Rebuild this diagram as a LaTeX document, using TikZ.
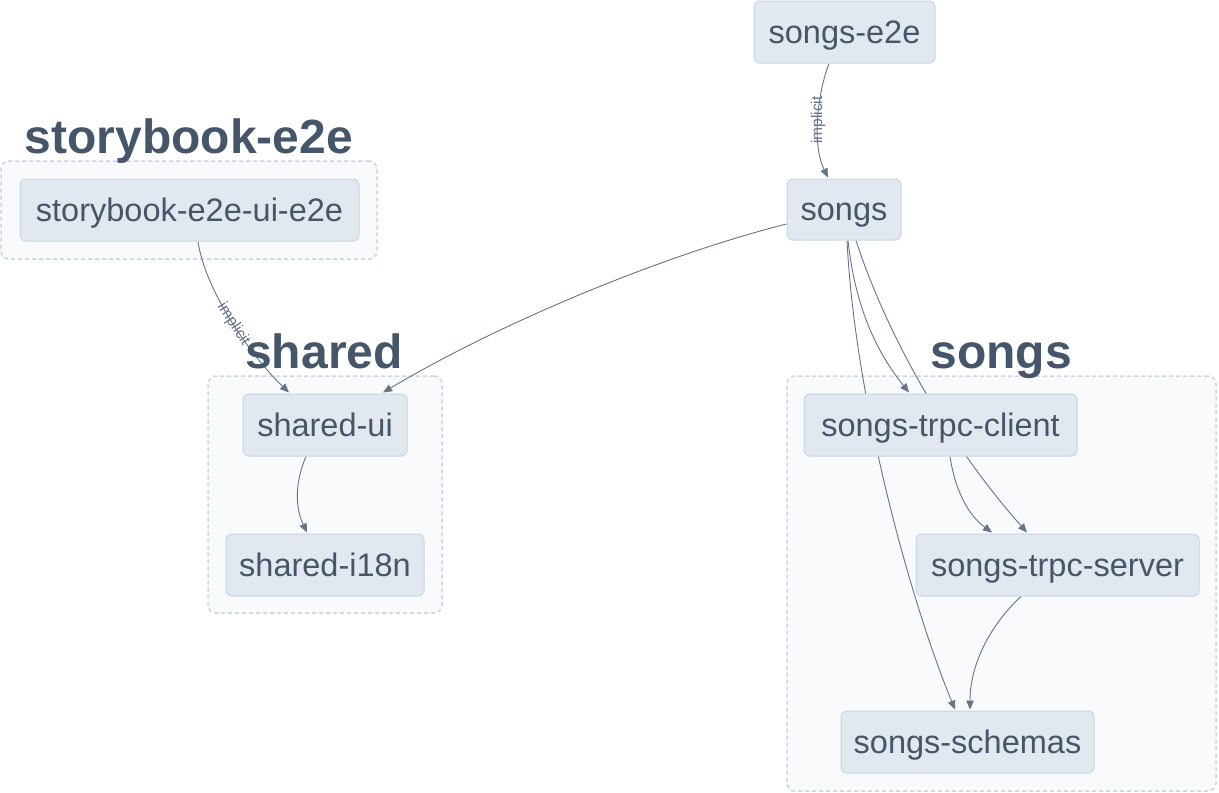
\documentclass[tikz,border=0pt]{standalone}
\usepackage{fontspec}
\setmainfont{Liberation Sans}
\usetikzlibrary{arrows.meta,calc}
\definecolor{nodefill}{HTML}{E2E8F0}
\definecolor{nodeline}{HTML}{CBD5E1}
\definecolor{txtc}{HTML}{475569}
\definecolor{titlec}{HTML}{45556A}
\definecolor{grpfill}{HTML}{F8FAFC}
\definecolor{grpline}{HTML}{CBD5E1}
\definecolor{edgec}{HTML}{64748B}
\pgfdeclarelayer{bg}
\pgfdeclarelayer{edges}
\pgfsetlayers{bg,edges,main}
\tikzset{
  pkg/.style={draw=nodeline, fill=nodefill, line width=1pt, rounded corners=6pt,
    text=txtc, font=\fontsize{32.5}{37}\selectfont, inner sep=0pt,
    text height=22pt, text depth=0pt, minimum height=62pt},
  grp/.style={draw=grpline, fill=grpfill, line width=1.5pt, rounded corners=8pt,
    dash pattern=on 4pt off 3pt, inner sep=0pt},
  gtitle/.style={text=titlec, font=\fontsize{48}{53}\selectfont\bfseries, anchor=base, inner sep=0pt},
  dep/.style={draw=edgec, line width=0.9pt, -{Triangle[length=9pt,width=7.5pt]}},
  lbl/.style={text=edgec, font=\fontsize{15.5}{17}\selectfont, inner sep=0pt}
}
\begin{document}
\begin{tikzpicture}[x=1pt,y=-1pt]
\useasboundingbox (0,0) rectangle (1219,793);
\begin{pgfonlayer}{bg}
  \fill[white] (0,0) rectangle (1219,793);
  \node[grp, minimum width=376pt, minimum height=98pt] (gsb) at (189,210) {};
  \node[grp, minimum width=234pt, minimum height=237pt] (gsh) at (325,494.5) {};
  \node[grp, minimum width=429pt, minimum height=415pt] (gso) at (1001.5,583.5) {};
\end{pgfonlayer}

\node[gtitle] (tsb) at (189,153) {storybook-e2e};
\node[gtitle] (tsh) at (324,368) {shared};
\node[gtitle] (tso) at (1001,368) {songs};

\node[pkg, minimum width=181pt] (se2e) at (844.5,32) {songs-e2e};
\node[pkg, minimum width=114pt, minimum height=61pt] (songs) at (844,209.5) {songs};
\node[pkg, minimum width=339pt] (sb) at (189.5,210) {storybook-e2e-ui-e2e};
\node[pkg, minimum width=164pt] (sui) at (325,425) {shared-ui};
\node[pkg, minimum width=198pt] (si18n) at (325,565) {shared-i18n};
\node[pkg, minimum width=273pt] (client) at (940.5,425) {songs-trpc-client};
\node[pkg, minimum width=283pt] (server) at (1057.5,565) {songs-trpc-server};
\node[pkg, minimum width=253pt] (schemas) at (967.5,742) {songs-schemas};

\begin{pgfonlayer}{edges}
  \draw[dep] ($(se2e.south)+(-15.5,0)$) .. controls (817,95) and (812,145) ..
    node[lbl, pos=0.5, rotate=90] (l1) {implicit} ($(songs.north)+(-16,-1)$);
  \draw[dep] ($(sb.south)+(8.5,0)$) .. controls (205,290) and (250,355) ..
    node[lbl, pos=0.52, rotate=-57] (l2) {implicit} ($(sui.north)+(-36,-1)$);
  \draw[dep] (songs.west |- 0,224) .. controls (667,254) and (503,321) .. ($(sui.north)+(58,-1)$);
  \draw[dep] ($(songs.south)+(4,0)$) .. controls (855,305) and (875,350) .. ($(client.north)+(-31.5,-1)$);
  \draw[dep] ($(songs.south)+(12,0)$) .. controls (885,330) and (945,440) .. ($(server.north)+(-30.5,-1)$);
  \draw[dep] ($(songs.south)+(3,0)$) .. controls (855,400) and (910,600) .. ($(schemas.north)+(-12.5,-1)$);
  \draw[dep] ($(client.south)+(9.5,0)$) .. controls (955,490) and (968,515) .. ($(server.north)+(-65.5,-1)$);
  \draw[dep] ($(server.south)+(-36.5,0)$) .. controls (995,620) and (970,660) .. ($(schemas.north)+(2.5,-1)$);
  \draw[dep] ($(sui.south)+(-19,0)$) .. controls (296,480) and (294,505) .. ($(si18n.north)+(-18,-1)$);
\end{pgfonlayer}
\end{tikzpicture}
\end{document}
